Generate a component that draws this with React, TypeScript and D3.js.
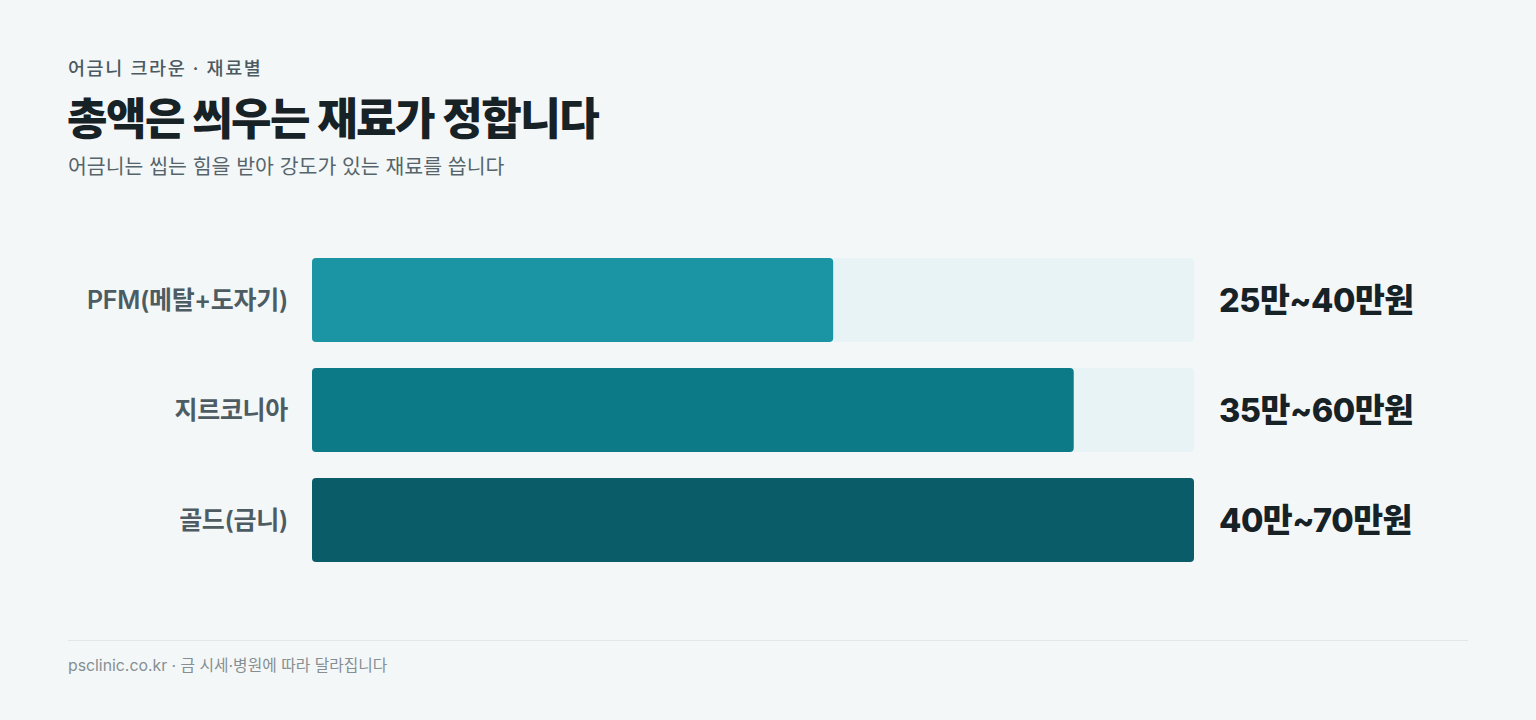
import { useEffect, useRef } from 'react';
import * as d3 from 'd3';

// 재료별 가격 (만원 단위)
const materials = ['PFM(메탈+도자기)', '지르코니아', '골드(금니)'];
const priceLow = [25, 35, 40];
const priceHigh = [40, 60, 70];
const barColors = ['#1b94a4', '#0c7a87', '#0a5c68'];

const FONT = "Inter, 'Noto Sans CJK KR', sans-serif";

export default function App() {
  const ref = useRef<SVGSVGElement>(null);

  useEffect(() => {
    document.body.style.margin = '0';
    const svg = d3.select(ref.current);
    svg.selectAll('*').remove();

    const W = 1536, H = 720;
    svg.append('rect').attr('width', W).attr('height', H).attr('fill', '#f4f7f8');

    // 머리글
    svg.append('text').attr('x', 68).attr('y', 75)
      .text('어금니 크라운 · 재료별')
      .style('font-size', '18.5px').style('font-weight', 500).attr('fill', '#4b5a60')
      .style('letter-spacing', '1.6px');
    svg.append('text').attr('x', 67).attr('y', 135)
      .text('총액은 씌우는 재료가 정합니다')
      .style('font-size', '44px').style('font-weight', 800).attr('fill', '#172226')
      .style('letter-spacing', '-1.5px');
    svg.append('text').attr('x', 68).attr('y', 174)
      .text('어금니는 씹는 힘을 받아 강도가 있는 재료를 씁니다')
      .style('font-size', '20.5px').style('font-weight', 400).attr('fill', '#56656b');

    // 중앙값 기준 막대
    const mids = priceLow.map((l, i) => (l + priceHigh[i]) / 2);
    const x = d3.scaleLinear().domain([0, d3.max(mids) as number]).range([312, 1194]);
    const y = d3.scaleBand<string>().domain(materials).range([258, 562]).paddingInner(26 / 110).paddingOuter(0);

    const g = svg.append('g');
    materials.forEach((m, i) => {
      const yy = y(m) as number;
      g.append('rect').attr('x', x(0)).attr('y', yy).attr('width', x.range()[1] - x(0))
        .attr('height', y.bandwidth()).attr('rx', 4).attr('fill', '#e7f3f5');
      g.append('rect').attr('x', x(0)).attr('y', yy).attr('width', x(mids[i]) - x(0))
        .attr('height', y.bandwidth()).attr('rx', 4).attr('fill', barColors[i]);
      g.append('text').attr('x', 288).attr('y', yy + y.bandwidth() / 2)
        .attr('dy', '0.35em').attr('text-anchor', 'end')
        .text(m).style('font-size', '25px').style('font-weight', 600).attr('fill', '#4d5c63')
        .style('letter-spacing', '-0.3px');
      g.append('text').attr('x', 1219).attr('y', yy + y.bandwidth() / 2)
        .attr('dy', '0.36em')
        .text(`${priceLow[i]}만~${priceHigh[i]}만원`)
        .style('font-size', '32.5px').style('font-weight', 800).attr('fill', '#172226')
        .style('letter-spacing', '-0.5px');
    });

    // 하단
    svg.append('line').attr('x1', 68).attr('x2', 1468).attr('y1', 640.5).attr('y2', 640.5)
      .attr('stroke', '#e2e8ea').attr('stroke-width', 1);
    svg.append('text').attr('x', 68).attr('y', 671)
      .text('psclinic.co.kr · 금 시세·병원에 따라 달라집니다')
      .style('font-size', '15.8px').attr('fill', '#858f93');
  }, []);

  return <svg ref={ref} width={1536} height={720} style={{ display: 'block', fontFamily: FONT }} />;
}
